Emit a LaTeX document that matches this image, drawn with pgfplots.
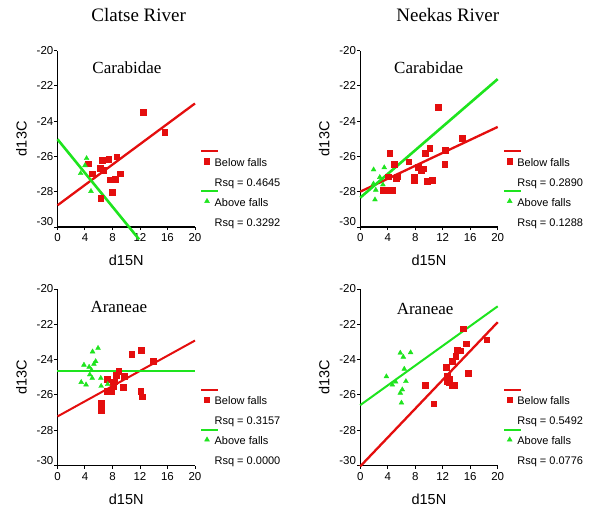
\documentclass[border=0pt]{standalone}
\usepackage{fontspec}
\setmainfont{Liberation Sans}
\newfontfamily\seriffont{Liberation Serif}
\usepackage{pgfplots}
\pgfplotsset{compat=1.18}
\definecolor{pred}{RGB}{228,14,14}
\definecolor{pgreen}{RGB}{30,228,30}

\pgfplotsset{
 leglineimg/.style={legend image code/.code={\path[draw=none,fill=none] (0pt,-5pt) rectangle (13.3pt,5pt); \draw[##1,overlay] (0pt,0pt) -- (16.7pt,0pt);}},
 legmarkimg/.style={legend image code/.code={\path[draw=none,fill=none] (0pt,-5pt) rectangle (13.3pt,5pt); \draw[##1,overlay] plot coordinates {(5.7pt,0pt)};}},
 legemptyimg/.style={legend image code/.code={\path[draw=none,fill=none] (0pt,-5pt) rectangle (13.3pt,5pt);}},
 panel/.style={
  scale only axis, width=137.5pt, height=176.5pt, anchor=south west,
  xmin=0, xmax=20, ymin=-30, ymax=-20,
  axis lines=left, axis line style={-, line width=1.1pt, black},
  every outer x axis line/.append style={-}, every outer y axis line/.append style={-},
  clip=false,
  tick align=outside, major tick length=3pt, tick style={black, line width=1pt},
  xtick={0,4,...,20}, ytick={-28,-26,-24,-22,-20},
  extra y ticks={-30}, extra y tick style={yticklabel style={yshift=5pt}},
  /pgf/number format/assume math mode=true,
  ticklabel style={font=\fontsize{11.5}{13.8}\selectfont},
  yticklabel style={inner sep=1pt},
  xticklabel style={inner sep=3.5pt},
  xlabel={d15N}, ylabel={d13C},
  label style={font=\fontsize{14.5}{17}\selectfont},
  xlabel style={at={(axis description cs:0.5,-0.19)}, anchor=center},
  ylabel style={at={(axis description cs:-0.262,0.5)}, anchor=center},
  legend style={draw=none, fill=none, at={(axis description cs:1.046,0.458)}, anchor=north west,
    inner sep=0pt, outer sep=0pt, row sep=0pt, column sep=0pt,
    nodes={inner sep=0pt, text height=10pt, text depth=0pt},
    font=\fontsize{11}{13}\selectfont},
  legend cell align=left,
 },
 redsq/.style={only marks, mark=square*, mark size=2.9pt, color=pred, forget plot},
 greentri/.style={only marks, mark=triangle*, mark size=2.8pt, color=pgreen, forget plot},
}
\newcommand{\taxfont}{\seriffont\fontsize{17}{20}\selectfont}
\newcommand{\mylegend}[2]{%
 \addlegendimage{leglineimg, pred, line width=2.3pt}\addlegendentry{\mbox{}}
 \addlegendimage{legmarkimg, only marks, mark=square*, pred, mark size=2.6pt}\addlegendentry{Below falls}
 \addlegendimage{legemptyimg}\addlegendentry{\mbox{}}
 \addlegendimage{legemptyimg}\addlegendentry{Rsq = #1}
 \addlegendimage{leglineimg, pgreen, line width=2.3pt}\addlegendentry{\mbox{}}
 \addlegendimage{legmarkimg, only marks, mark=triangle*, pgreen, mark size=2.8pt}\addlegendentry{Above falls}
 \addlegendimage{legemptyimg}\addlegendentry{\mbox{}}
 \addlegendimage{legemptyimg}\addlegendentry{Rsq = #2}
}

\begin{document}
\begin{tikzpicture}
\path[use as bounding box] (0pt,0pt) rectangle (600pt,-517pt);
\node[font=\seriffont\fontsize{19}{22}\selectfont] at (138.7pt,-15pt) {Clatse River};
\node[font=\seriffont\fontsize{19}{22}\selectfont] at (447.8pt,-15pt) {Neekas River};

% Panel 1: Clatse, Carabidae
\begin{axis}[panel, at={(57.5pt,-227pt)}]
\addplot[pred, line width=2.3pt, forget plot] coordinates {(0,-28.77) (20,-23.0)};
\addplot[pgreen, line width=2.6pt, forget plot] coordinates {(0,-25.03) (11.87,-30.7)};
\addplot[redsq] coordinates {
(12.5,-23.51) (15.6,-24.61) (4.48,-26.41) (6.5,-26.22) (7.45,-26.17) (8.6,-26.02)
(6.2,-26.68) (6.6,-26.79) (5.1,-26.98) (9.15,-26.98) (7.7,-27.32) (8.4,-27.29)
(7.93,-28.01) (6.28,-28.39)};
\addplot[greentri] coordinates {(4.23,-26.11) (4.0,-26.51) (3.36,-26.96) (4.87,-27.97)};
\node[font=\taxfont] at (axis cs:10.1,-20.98) {Carabidae};
\mylegend{0.4645}{0.3292}
\end{axis}

% Panel 2: Neekas, Carabidae
\begin{axis}[panel, at={(360.2pt,-227pt)}]
\addplot[pred, line width=2.3pt, forget plot] coordinates {(0,-28.0) (20,-24.33)};
\addplot[pgreen, line width=2.6pt, forget plot] coordinates {(0,-28.34) (20,-21.62)};
\addplot[redsq] coordinates {
(11.3,-23.2) (14.8,-24.95) (4.3,-25.8) (4.9,-26.45) (10.1,-25.55) (9.5,-25.8)
(12.4,-25.65) (12.3,-26.45) (7.05,-26.3) (8.4,-26.6) (9.2,-26.7) (8.9,-26.8)
(7.9,-27.15) (7.9,-27.35) (5.4,-27.15) (5.2,-27.25) (9.8,-27.4) (10.5,-27.35)
(4.1,-27.15) (3.3,-27.9) (4.0,-27.9) (4.7,-27.9)};
\addplot[greentri] coordinates {(1.95,-26.75) (3.5,-26.63) (2.85,-27.18) (1.93,-27.55) (3.3,-27.6) (2.27,-27.9) (2.15,-28.45)};
\node[font=\taxfont] at (axis cs:9.96,-21.0) {Carabidae};
\mylegend{0.2890}{0.1288}
\end{axis}

% Panel 3: Clatse, Araneae
\begin{axis}[panel, at={(57.5pt,-465.5pt)}]
\addplot[pred, line width=2pt, forget plot] coordinates {(0,-27.22) (20,-22.92)};
\addplot[pgreen, line width=2pt, forget plot] coordinates {(0,-24.65) (20,-24.65)};
\addplot[redsq] coordinates {
(12.2,-23.45) (10.8,-23.7) (13.9,-24.08) (8.9,-24.65) (9.65,-24.95) (8.5,-24.9)
(7.2,-25.1) (8.3,-25.25) (8.1,-25.5) (9.55,-25.57) (7.2,-25.8) (7.8,-25.8)
(12.1,-25.8) (12.35,-26.1) (6.4,-26.45) (6.4,-26.85)};
\addplot[greentri] coordinates {
(5.9,-23.35) (5.1,-23.55) (3.85,-24.3) (5.55,-24.1) (5.3,-24.25) (4.6,-24.42)
(4.95,-24.6) (4.7,-24.85) (5.05,-25.05) (6.3,-25.05) (3.45,-25.28) (4.15,-25.42)
(6.35,-25.5) (7.3,-25.4)};
\node[font=\taxfont] at (axis cs:8.92,-21.02) {Araneae};
\mylegend{0.3157}{0.0000}
\end{axis}

% Panel 4: Neekas, Araneae
\begin{axis}[panel, at={(360.2pt,-465.5pt)}]
\addplot[pred, line width=2.3pt, forget plot] coordinates {(0,-30.05) (20,-21.88)};
\addplot[pgreen, line width=2pt, forget plot] coordinates {(0,-26.58) (20,-20.98)};
\addplot[redsq] coordinates {
(15.0,-22.25) (18.4,-22.87) (15.45,-23.1) (14.1,-23.45) (14.6,-23.5) (13.9,-23.8)
(13.4,-24.1) (12.5,-24.45) (15.7,-24.75) (12.7,-24.95) (12.9,-25.1) (12.6,-25.25)
(13.0,-25.3) (13.7,-25.45) (13.3,-25.45) (9.45,-25.47) (10.7,-26.5)};
\addplot[greentri] coordinates {
(5.83,-23.62) (7.33,-23.6) (6.27,-23.85) (6.41,-24.53) (3.81,-24.96) (5.16,-25.26)
(4.67,-25.43) (6.65,-25.23) (6.12,-25.7) (5.83,-25.89) (6.0,-26.45)};
\node[font=\taxfont] at (axis cs:9.44,-21.13) {Araneae};
\mylegend{0.5492}{0.0776}
\end{axis}
\end{tikzpicture}
\end{document}
